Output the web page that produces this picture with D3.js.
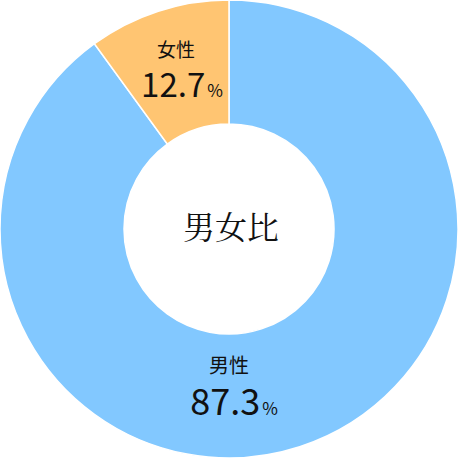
<!DOCTYPE html>
<html>
<head>
<meta charset="utf-8">
<script src="https://cdn.jsdelivr.net/npm/d3@7"></script>
<style>
  html, body { margin: 0; padding: 0; background: #ffffff; }
  svg { display: block; }
</style>
</head>
<body>
<div id="chart"></div>
<script>
// data
const categories = ["男性", "女性"];
const percentLabels = [87.3, 12.7];
// shares as drawn in the picture (the female wedge spans about 36 degrees)
const sliceShares = [90, 10];
const colors = ["#82C8FF", "#FFC572"];
const centerTitle = "男女比";

const width = 458, height = 458;
const cx = 229, cy = 229;
const outerR = 229, innerR = 105;

// label anchors (layout only), relative to centre
const labelOffsets = [
    { tx: 0, ty: 144, nx: 5, ny: 186 },
    { tx: -53, ty: -172, nx: -47, ny: -132 }
];

const svg = d3.select("#chart").append("svg")
    .attr("width", width)
    .attr("height", height);

const g = svg.append("g").attr("transform", `translate(${cx},${cy})`);

const pie = d3.pie().sort(null).value(d => d)(sliceShares);
const arc = d3.arc().innerRadius(innerR).outerRadius(outerR);

g.selectAll("path.slice")
    .data(pie)
    .join("path")
    .attr("class", "slice")
    .attr("d", arc)
    .attr("fill", (d, i) => colors[i])
    .attr("stroke", "#ffffff")
    .attr("stroke-width", 1.5);

const font = "'Noto Sans CJK JP', 'Noto Sans', sans-serif";

categories.forEach((name, i) => {
    const off = labelOffsets[i];
    g.append("text")
        .attr("x", off.tx)
        .attr("y", off.ty)
        .attr("text-anchor", "middle")
        .attr("font-family", font)
        .attr("font-size", i === 0 ? 20 : 19)
        .attr("fill", "#111")
        .text(name);

    const t = g.append("text")
        .attr("x", off.nx)
        .attr("y", off.ny)
        .attr("text-anchor", "middle")
        .attr("font-family", font)
        .attr("fill", "#111");
    t.append("tspan")
        .attr("font-size", i === 0 ? 36 : 33)
        .text(d3.format(".1f")(percentLabels[i]));
    t.append("tspan")
        .attr("font-size", 17)
        .attr("dx", 2)
        .text("%");
});

g.append("text")
    .attr("x", 2)
    .attr("y", 2)
    .attr("text-anchor", "middle")
    .attr("dominant-baseline", "middle")
    .attr("font-family", "'Noto Serif CJK JP', 'Noto Serif JP', serif, 'Noto Sans CJK JP'")
    .attr("font-size", 32)
    .attr("fill", "#111")
    .text(centerTitle);
</script>
</body>
</html>
